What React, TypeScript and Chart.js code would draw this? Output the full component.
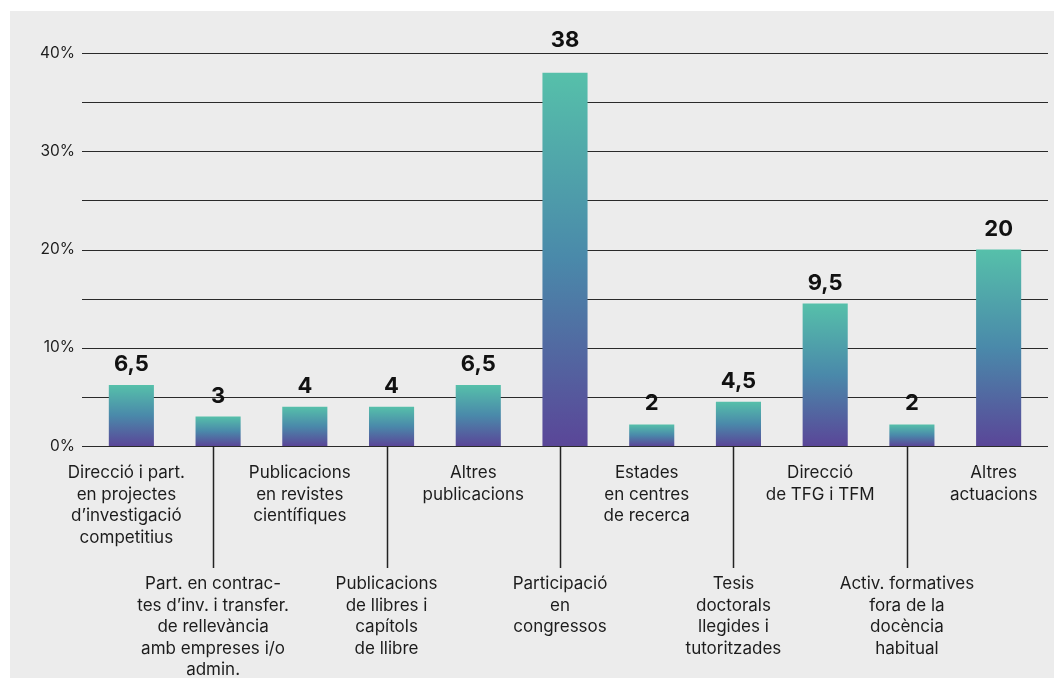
import React, { useEffect, useRef } from "react";
import { Chart, registerables } from "chart.js";

Chart.register(...registerables);

const categories: string[][] = [
  ["Direcció i part.", "en projectes", "d’investigació", "competitius"],
  ["Part. en contrac-", "tes d’inv. i transfer.", "de rellevància", "amb empreses i/o", "admin."],
  ["Publicacions", "en revistes", "científiques"],
  ["Publicacions", "de llibres i", "capítols", "de llibre"],
  ["Altres", "publicacions"],
  ["Participació", "en", "congressos"],
  ["Estades", "en centres", "de recerca"],
  ["Tesis", "doctorals", "llegides i", "tutoritzades"],
  ["Direcció", "de TFG i TFM"],
  ["Activ. formatives", "fora de la", "docència", "habitual"],
  ["Altres", "actuacions"],
];

const values: number[] = [6.2, 3, 4, 4, 6.2, 38, 2.2, 4.5, 14.5, 2.2, 20];
const valueLabels: string[] = ["6,5", "3", "4", "4", "6,5", "38", "2", "4,5", "9,5", "2", "20"];
const yTickValues: number[] = [0, 10, 20, 30, 40];

const FONT = "Inter, 'DejaVu Sans', sans-serif";
const TEXT = "#1c1c1c";

export default function App() {
  const ref = useRef<HTMLCanvasElement | null>(null);

  useEffect(() => {
    const canvas = ref.current;
    if (!canvas) return;

    const gridPlugin = {
      id: "extGrid",
      beforeDatasetsDraw(chart: any) {
        const { ctx, chartArea, scales } = chart;
        const y = scales.y;
        ctx.save();
        ctx.strokeStyle = "#2a2a2a";
        ctx.lineWidth = 1.2;
        for (const t of y.ticks) {
          const py = Math.round(y.getPixelForValue(t.value)) + 0.5;
          ctx.beginPath();
          ctx.moveTo(chartArea.left - 6, py);
          ctx.lineTo(chartArea.right + 6, py);
          ctx.stroke();
        }
        ctx.restore();
      },
    };

    const labelPlugin = {
      id: "labels",
      afterDatasetsDraw(chart: any) {
        const { ctx, chartArea } = chart;
        const meta = chart.getDatasetMeta(0);
        ctx.save();
        // value labels
        ctx.font = `bold 22px ${FONT}`;
        ctx.fillStyle = "#111";
        ctx.textAlign = "center";
        ctx.textBaseline = "alphabetic";
        meta.data.forEach((el: any, i: number) => {
          let yb = el.y - 14;
          if (yb - 16 < chartArea.top + 4) yb = chartArea.top - 6;
          ctx.fillText(valueLabels[i], el.x, yb);
        });
        // category labels
        ctx.font = `17px ${FONT}`;
        ctx.fillStyle = TEXT;
        const lh = 21.5;
        meta.data.forEach((el: any, i: number) => {
          const cx = el.x - 5;
          const lower = i % 2 === 1;
          const firstBase = chartArea.bottom + (lower ? 143 : 32);
          if (lower) {
            ctx.save();
            ctx.strokeStyle = "#222";
            ctx.lineWidth = 1.5;
            ctx.beginPath();
            ctx.moveTo(Math.round(cx) + 0.5, chartArea.bottom);
            ctx.lineTo(Math.round(cx) + 0.5, chartArea.bottom + 122);
            ctx.stroke();
            ctx.restore();
          }
          categories[i].forEach((line, k) => {
            ctx.fillText(line, cx, firstBase + k * lh);
          });
        });
        ctx.restore();
      },
    };

    const chart = new Chart(canvas, {
      type: "bar",
      data: {
        labels: categories.map((c) => c.join(" ")),
        datasets: [
          {
            data: values,
            barPercentage: 0.52,
            categoryPercentage: 1,
            backgroundColor: (ctx: any) => {
              const ch = ctx.chart;
              const y = ch.scales?.y;
              if (!y || ctx.dataIndex === undefined) return "#4a8aaa";
              const top = y.getPixelForValue(values[ctx.dataIndex]);
              const bottom = y.getPixelForValue(0);
              if (!isFinite(top) || !isFinite(bottom) || top === bottom) return "#4a8aaa";
              const g = ch.ctx.createLinearGradient(0, top, 0, bottom);
              g.addColorStop(0, "#56c0aa");
              g.addColorStop(0.5, "#4a89aa");
              g.addColorStop(1, "#5a4698");
              return g;
            },
          },
        ],
      },
      options: {
        responsive: false,
        animation: false,
        devicePixelRatio: 1,
        layout: { padding: { top: 42, right: 12, bottom: 232, left: 0 } },
        plugins: {
          legend: { display: false },
          tooltip: { enabled: false },
        },
        scales: {
          x: { display: false },
          y: {
            min: 0,
            max: 40,
            border: { display: false },
            grid: { display: false, drawTicks: false },
            afterFit: (s: any) => {
              s.width = 78;
            },
            ticks: {
              stepSize: 5,
              padding: 13,
              color: TEXT,
              font: { family: FONT, size: 15.5 },
              callback: (v: any) => (yTickValues.includes(Number(v)) ? `${v}%` : ""),
            },
          },
        },
      },
      plugins: [gridPlugin, labelPlugin],
    } as any);

    return () => chart.destroy();
  }, []);

  return (
    <div
      style={{
        position: "absolute",
        left: 10,
        top: 11,
        width: 1044,
        height: 667,
        background: "#ececec",
      }}
    >
      <canvas ref={ref} width={1044} height={667} style={{ display: "block" }} />
    </div>
  );
}
